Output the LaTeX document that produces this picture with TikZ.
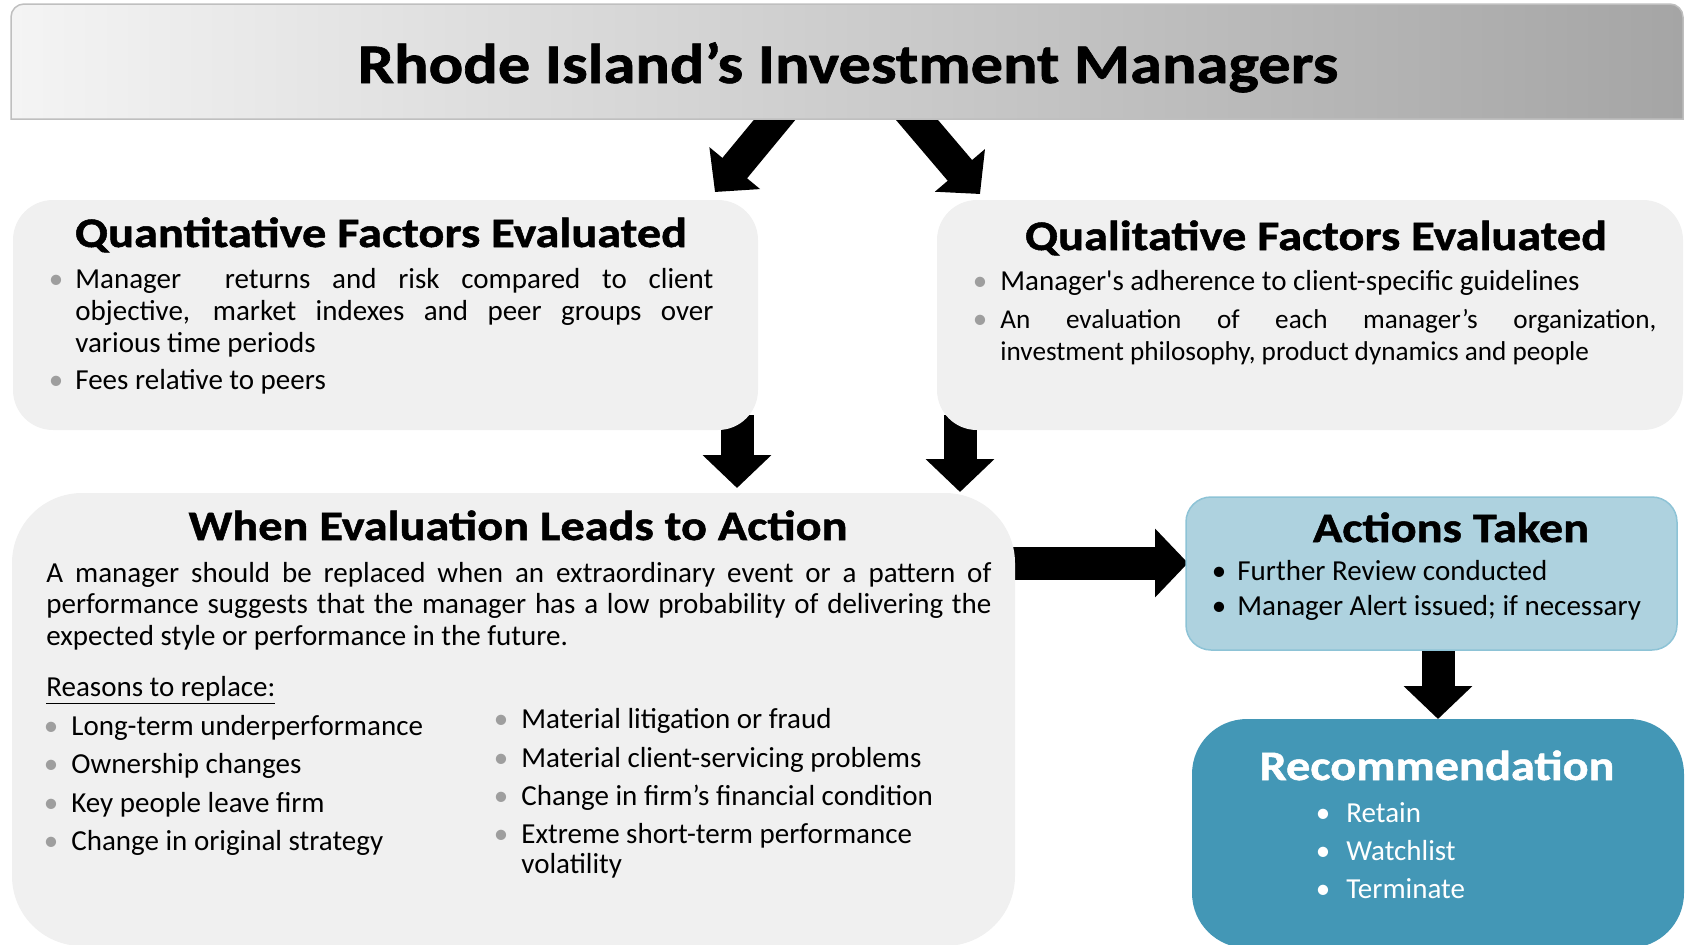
\documentclass[tikz,border=0pt]{standalone}
\usepackage{fontspec}
\setmainfont{Carlito}
\newfontfamily\headfont[FakeStretch=1.15,FakeBold=1.2]{Carlito}
\usetikzlibrary{arrows.meta}
\pgfdeclarelayer{background}
\pgfsetlayers{background,main}
\definecolor{titleL}{HTML}{F4F4F4}
\definecolor{titleR}{HTML}{A5A5A5}
\definecolor{titleB}{HTML}{BFBFBF}
\definecolor{boxgray}{HTML}{F0F0F0}
\definecolor{bulletgray}{HTML}{9E9E9E}
\definecolor{actfill}{HTML}{AED2DF}
\definecolor{actdraw}{HTML}{8DC3D6}
\definecolor{recfill}{HTML}{4397B6}
\begin{document}
\begin{tikzpicture}[x=0.5pt,y=-0.5pt,
  panel/.style={fill=boxgray, draw=none, inner sep=0pt},
  body/.style={inner sep=0pt, anchor=base west, font=\fontsize{14.5pt}{16pt}\selectfont},
  blt/.style={inner sep=0pt, anchor=base, text=bulletgray, font=\fontsize{14.5pt}{16pt}\selectfont},
  head/.style={inner sep=0pt, anchor=base, font=\headfont\bfseries\fontsize{21pt}{24pt}\selectfont},
  fat/.style={line width=16.5pt, -{Triangle[length=16.5pt,width=33.5pt]}},
  diag/.style={line width=16pt, -{Triangle[length=15.5pt,width=32pt]}}]
\path[use as bounding box, clip] (0,0) rectangle (1688,944);

% title box: rounded top corners, square bottom corners
\path[draw=titleB, line width=0.75pt, left color=titleL, right color=titleR]
  (11,119) -- (11,17) arc[start angle=180, end angle=90, radius=6.5pt]
  -- (1670,4) arc[start angle=90, end angle=0, radius=6.5pt] -- (1683,119) -- cycle;
\node[inner sep=0pt, minimum width=836pt, minimum height=57.5pt] (titlebox) at (847,61.5) {};

% boxes
\node[panel, rounded corners=20pt, minimum width=372.5pt, minimum height=115pt] (quant) at (385.5,315) {};
\node[panel, rounded corners=20pt, minimum width=373pt, minimum height=115pt] (qual) at (1310,315) {};
\node[panel, rounded corners=35pt, minimum width=501.5pt, minimum height=226.5pt] (evalbox) at (513.5,719.5) {};
\node[fill=actfill, draw=actdraw, line width=0.75pt, rounded corners=12.5pt, minimum width=245.5pt, minimum height=76.5pt, inner sep=0pt] (actions) at (1431.5,573.5) {};
\node[fill=recfill, rounded corners=27.5pt, minimum width=246pt, minimum height=114.5pt, inner sep=0pt] (rec) at (1438,833.5) {};

% arrows (behind boxes)
\coordinate (d1s) at (791,100); \coordinate (d1e) at (715,192);
\coordinate (d2s) at (900,100); \coordinate (d2e) at (980,194);
\coordinate (v1s) at (737,415); \coordinate (v1e) at (737,488);
\coordinate (v2s) at (960,415); \coordinate (v2e) at (960,492);
\coordinate (hs) at (1000,563); \coordinate (he) at (1188,563);
\coordinate (v3s) at (1438,640); \coordinate (v3e) at (1438,719);
\begin{pgfonlayer}{background}
\draw[diag] (d1s) -- (d1e);
\draw[diag] (d2s) -- (d2e);
\draw[fat] (v1s) -- (v1e);
\draw[fat] (v2s) -- (v2e);
\draw[fat] (hs) -- (he);
\draw[fat] (v3s) -- (v3e);
\end{pgfonlayer}

% title
\node[inner sep=0pt, anchor=base, font=\headfont\bfseries\fontsize{28pt}{32pt}\selectfont] (tt) at (848,83) {Rhode Island’s Investment Managers};

% quantitative
\node[head] (qh) at (381,247) {Quantitative Factors Evaluated};
\node[blt] (qb1) at (56,288) {•};
\node[body, text width=319pt, align=justify] (qt1) at (75,288) {Manager\ \ returns and risk compared to client\linebreak objective, market indexes and peer groups over\linebreak various time periods};
\node[blt] (qb2) at (56,389) {•};
\node[body] (qt2) at (75,389) {Fees relative to peers};

% qualitative
\node[head] (lh) at (1316,250) {Qualitative Factors Evaluated};
\node[blt] (lb1) at (980,290) {•};
\node[body] (lt1) at (1000,290) {Manager\textquotesingle s adherence to client-specific guidelines};
\node[blt] (lb2) at (980,328) {•};
\node[body, text width=328pt, align=justify, font=\fontsize{13.6pt}{16pt}\selectfont] (lt2) at (1000,328) {\hyphenpenalty=10000 An evaluation of each manager’s organization,\linebreak investment philosophy, product dynamics and people};

% evaluation
\node[head] (eh) at (518,540) {When Evaluation Leads to Action};
\node[body, text width=472.5pt, align=justify, font=\fontsize{14.5pt}{15.75pt}\selectfont] (ep) at (46,582) {A manager should be replaced when an extraordinary event or a pattern of\linebreak performance suggests that the manager has a low probability of delivering the\linebreak expected style or performance in the future.};
\node[body] (er) at (46,696) {\underline{Reasons to replace:}};
\node[blt] (eb1) at (51,735) {•};
\node[body] (et1) at (71,735) {Long-term underperformance};
\node[blt] (eb2) at (51,773) {•};
\node[body] (et2) at (71,773) {Ownership changes};
\node[blt] (eb3) at (51,812) {•};
\node[body] (et3) at (71,812) {Key people leave firm};
\node[blt] (eb4) at (51,850) {•};
\node[body] (et4) at (71,850) {Change in original strategy};
\node[blt] (fb1) at (501,728) {•};
\node[body] (ft1) at (521,728) {Material litigation or fraud};
\node[blt] (fb2) at (501,767) {•};
\node[body] (ft2) at (521,767) {Material client-servicing problems};
\node[blt] (fb3) at (501,805) {•};
\node[body] (ft3) at (521,805) {Change in firm’s financial condition};
\node[blt] (fb4) at (501,843) {•};
\node[body, text width=230pt, align=flush left, font=\fontsize{14.5pt}{15pt}\selectfont] (ft4) at (521,843) {Extreme short-term performance\\volatility};

% actions
\node[head] (ah) at (1451,542) {Actions Taken};
\node[blt, text=black] (ab1) at (1219,580) {•};
\node[body] (at1) at (1237,580) {Further Review conducted};
\node[blt, text=black] (ab2) at (1219,615) {•};
\node[body] (at2) at (1237,615) {Manager Alert issued; if necessary};

% recommendation
\node[head, text=white] (rh) at (1437,780) {Recommendation};
\node[blt, text=white] (rb1) at (1323,822) {•};
\node[body, text=white] (rt1) at (1346,822) {Retain};
\node[blt, text=white] (rb2) at (1323,860) {•};
\node[body, text=white] (rt2) at (1346,860) {Watchlist};
\node[blt, text=white] (rb3) at (1323,898) {•};
\node[body, text=white] (rt3) at (1346,898) {Terminate};
\end{tikzpicture}
\end{document}
